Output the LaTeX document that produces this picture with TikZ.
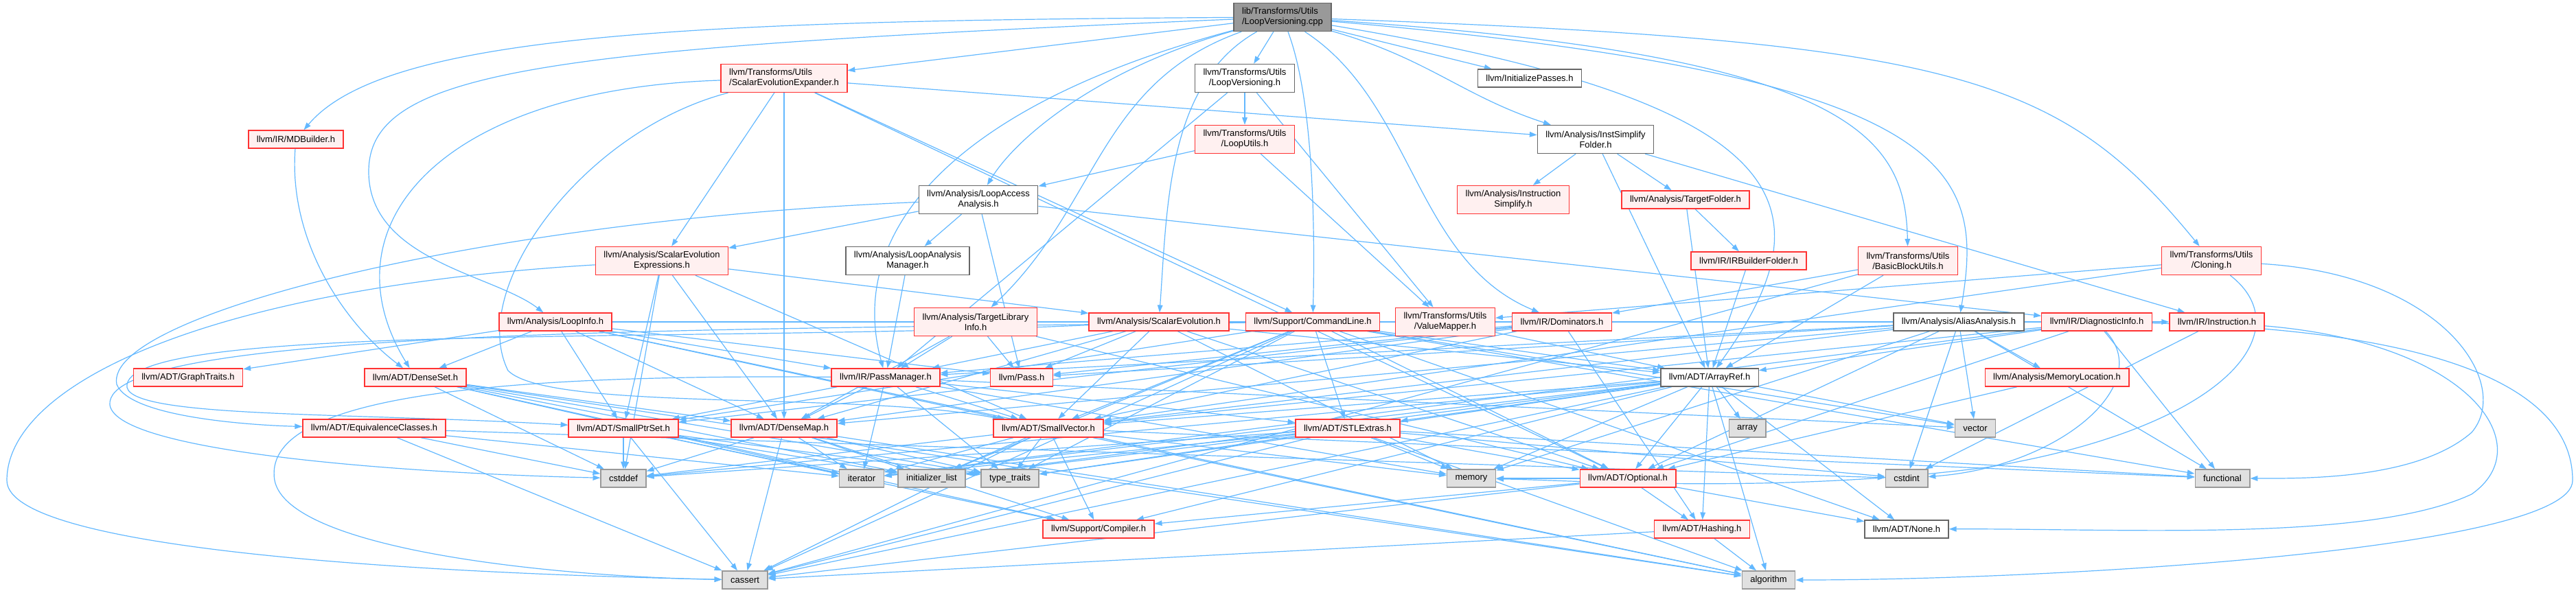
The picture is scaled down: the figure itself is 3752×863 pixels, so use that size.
\documentclass[tikz,border=0pt]{standalone}
\usepackage{fontspec}
\setmainfont{Liberation Sans}
\usepackage{xcolor}
\definecolor{myedge}{HTML}{63B8FF}
\definecolor{myred}{HTML}{FF3333}
\definecolor{mypink}{HTML}{FFF0F0}
\definecolor{mygray}{HTML}{999999}
\definecolor{mylight}{HTML}{E0E0E0}
\definecolor{mydark}{HTML}{666666}
\usepackage{tikz}
\usetikzlibrary{arrows.meta}
\usetikzlibrary{backgrounds}

\begin{document}
\begin{tikzpicture}[x=0.5pt, y=-0.5pt,
    box/.style={draw, line width=0.7pt, inner xsep=6pt, inner ysep=1pt, minimum height=13pt,
      align=center, font=\fontsize{6.5}{7.5}\selectfont},
    redbox/.style={box, draw=myred, fill=mypink},
    whitebox/.style={box, draw=mydark, fill=white},
    sysbox/.style={box, draw=mygray, fill=mylight},
    rootbox/.style={box, draw=mydark, fill=mygray},
    two/.style={minimum height=20.5pt},
    dep/.style={myedge, line width=0.6pt, -{Triangle[length=5.4pt,width=3.8pt]}}]
      \useasboundingbox (0,0) rectangle (3752,863);
      % rank 0 -- 3
      \node[rootbox, two, align=left] (root) at (1868,25) {lib/Transforms/Utils\\/LoopVersioning.cpp};
      \node[redbox] (mdb) at (431,203) {llvm/IR/MDBuilder.h};
      \node[redbox, two, align=left] (seexp) at (1142,114) {llvm/Transforms/Utils\\/ScalarEvolutionExpander.h};
      \node[whitebox, two] (lvh) at (1813,114) {llvm/Transforms/Utils\\/LoopVersioning.h};
      \node[redbox, two] (lutils) at (1813,203) {llvm/Transforms/Utils\\/LoopUtils.h};
      \node[whitebox] (initp) at (2228,114) {llvm/InitializePasses.h};
      \node[whitebox, two] (isf) at (2324,203) {llvm/Analysis/InstSimplify\\Folder.h};
      \node[whitebox, two] (laa) at (1425,291) {llvm/Analysis/LoopAccess\\Analysis.h};
      \node[redbox, two] (isimp) at (2204,291) {llvm/Analysis/Instruction\\Simplify.h};
      \node[redbox] (tfold) at (2455,291) {llvm/Analysis/TargetFolder.h};
      \node[redbox, two] (sexpr) at (964,380) {llvm/Analysis/ScalarEvolution\\Expressions.h};
      \node[whitebox, two] (lam) at (1322,380) {llvm/Analysis/LoopAnalysis\\Manager.h};
      \node[redbox] (irbf) at (2547,380) {llvm/IR/IRBuilderFolder.h};
      \node[redbox, two] (bbu) at (2779,380) {llvm/Transforms/Utils\\/BasicBlockUtils.h};
      \node[redbox, two] (clon) at (3221,380) {llvm/Transforms/Utils\\/Cloning.h};
      % rank 4
      \node[redbox] (linfo) at (809,469) {llvm/Analysis/LoopInfo.h};
      \node[redbox, two] (tli) at (1421,469) {llvm/Analysis/TargetLibrary\\Info.h};
      \node[redbox] (se) at (1688,469) {llvm/Analysis/ScalarEvolution.h};
      \node[redbox] (cl) at (1912,469) {llvm/Support/CommandLine.h};
      \node[redbox, two] (vmap) at (2105,469) {llvm/Transforms/Utils\\/ValueMapper.h};
      \node[redbox] (dom) at (2275,469) {llvm/IR/Dominators.h};
      \node[whitebox] (aa) at (2853,469) {llvm/Analysis/AliasAnalysis.h};
      \node[redbox] (diag) at (3054,469) {llvm/IR/DiagnosticInfo.h};
      \node[redbox] (instr) at (3229,469) {llvm/IR/Instruction.h};
      % rank 5
      \node[redbox] (gtraits) at (274,550) {llvm/ADT/GraphTraits.h};
      \node[redbox] (dset) at (605,550) {llvm/ADT/DenseSet.h};
      \node[redbox] (pm) at (1290,550) {llvm/IR/PassManager.h};
      \node[redbox] (pass) at (1488,550) {llvm/Pass.h};
      \node[whitebox] (aref) at (2490,550) {llvm/ADT/ArrayRef.h};
      \node[redbox] (memloc) at (2996,550) {llvm/Analysis/MemoryLocation.h};
      % rank 6
      \node[redbox] (eqc) at (545,624) {llvm/ADT/EquivalenceClasses.h};
      \node[redbox] (sps) at (908,624) {llvm/ADT/SmallPtrSet.h};
      \node[redbox] (dmap) at (1142,624) {llvm/ADT/DenseMap.h};
      \node[redbox] (svec) at (1527,624) {llvm/ADT/SmallVector.h};
      \node[redbox] (stlx) at (1963,624) {llvm/ADT/STLExtras.h};
      \node[sysbox] (arr) at (2545,624) {array};
      \node[sysbox] (vec) at (2877,624) {vector};
      % rank 7
      \node[sysbox] (cstddef) at (908,697) {cstddef};
      \node[sysbox] (iter) at (1255,697) {iterator};
      \node[sysbox] (initl) at (1357,697) {initializer\_list};
      \node[sysbox] (ttraits) at (1471,697) {type\_traits};
      \node[sysbox] (mem) at (2143,697) {memory};
      \node[redbox] (opt) at (2371,697) {llvm/ADT/Optional.h};
      \node[sysbox] (cstdint) at (2777,697) {cstdint};
      \node[sysbox] (func) at (3237,697) {functional};
      % rank 8 -- 9
      \node[redbox] (compiler) at (1600,771) {llvm/Support/Compiler.h};
      \node[redbox] (hash) at (2479,771) {llvm/ADT/Hashing.h};
      \node[whitebox] (none) at (2777,771) {llvm/ADT/None.h};
      \node[sysbox] (cassert) at (1085,845) {cassert};
      \node[sysbox] (algo) at (2576,845) {algorithm};

      \begin{pgfonlayer}{background}
      % includes of the root file
      \draw[dep] (root) .. controls (1000,30) and (560,50) .. (mdb);
      \draw[dep] (root) .. controls (800,70) and (537,100) .. (537,250) .. controls (537,380) and (720,400) .. (linfo);
      \draw[dep] (root) .. controls (1600,100) and (1480,200) .. (laa);
      \draw[dep] (root) .. controls (1400,150) and (1230,330) .. (pm);
      \draw[dep] (root) .. controls (1600,120) and (1600,300) .. (tli);
      \draw[dep] (root) .. controls (1700,120) and (1700,300) .. (se);
      \draw[dep] (root) .. controls (1915,150) and (1915,350) .. (cl);
      \draw[dep] (root) .. controls (2060,150) and (2060,380) .. (dom);
      \draw[dep] (root) .. controls (2080,85) and (2130,140) .. (isf);
      \draw[dep] (root) .. controls (2620,150) and (2670,300) .. (aref);
      \draw[dep] (root) .. controls (2700,80) and (2775,200) .. (bbu);
      \draw[dep] (root) .. controls (2860,110) and (2890,250) .. (aa);
      \draw[dep] (root) .. controls (2850,60) and (3000,110) .. (clon);
      \foreach \t in {seexp,lvh,initp}
        \draw[dep] (root) -- (\t);
      % long routes round the sides
      \draw[dep] (seexp) .. controls (640,130) and (470,330) .. (dset);
      \draw[dep] (seexp) .. controls (850,190) and (680,420) .. (740,540) .. controls (800,600) and (1250,570) .. (svec);
      \draw[dep] (mdb) .. controls (420,350) and (500,470) .. (dset);
      \draw[dep] (laa) .. controls (700,320) and (150,460) .. (170,560) .. controls (190,610) and (380,620) .. (eqc);
      \draw[dep] (se) .. controls (1000,500) and (200,470) .. (185,560) .. controls (175,610) and (500,600) .. (sps);
      \draw[dep] (cl) .. controls (1000,480) and (150,480) .. (160,590) .. controls (170,660) and (600,690) .. (cstddef);
      \draw[dep] (sexpr) .. controls (300,420) and (10,560) .. (10,700) .. controls (10,800) and (600,835) .. (cassert);
      \draw[dep] (pm) .. controls (700,545) and (380,580) .. (400,700) .. controls (420,800) and (800,840) .. (cassert);
      \draw[dep] (instr) .. controls (3600,500) and (3700,650) .. (3600,720) .. controls (3450,790) and (3100,770) .. (none);
      \draw[dep] (diag) .. controls (3540,480) and (3747,560) .. (3747,700) .. controls (3747,800) and (3000,845) .. (algo);
      \draw[dep] (clon) .. controls (3560,400) and (3660,560) .. (3600,630) .. controls (3520,700) and (3350,697) .. (func);
      \draw[dep] (clon) .. controls (3350,480) and (3250,620) .. (2900,680) .. controls (2600,720) and (2300,700) .. (mem);
      \draw[dep] (diag) .. controls (3140,560) and (3000,680) .. (cstdint);
      % the other includes
      \foreach \s/\t in {lvh/lutils, lvh/pm, lvh/vmap, lutils/laa, lutils/vmap,
          seexp/isf, seexp/sexpr, seexp/dmap, seexp/cl, seexp/opt,
          isf/isimp, isf/tfold, isf/aref, isf/instr, tfold/irbf, tfold/aref, irbf/aref,
          bbu/aref, bbu/dom, bbu/cassert, clon/vmap, clon/svec,
          laa/sexpr, laa/lam, laa/pass, laa/diag, lam/pm,
          sexpr/se, sexpr/dmap, sexpr/sps, sexpr/svec, sexpr/cstddef,
          se/pm, se/pass, se/dmap, se/svec, se/aref, se/mem, se/opt,
          tli/pm, tli/pass, tli/dmap, tli/opt,
          linfo/gtraits, linfo/dset, linfo/sps, linfo/dmap, linfo/svec, linfo/pm, linfo/pass, linfo/instr, linfo/algo,
          pm/sps, pm/dmap, pm/svec, pm/stlx, pm/iter, pm/ttraits, pm/mem, pm/vec,
          dset/dmap, dset/cstddef, dset/iter, dset/initl, dset/ttraits, dset/compiler, dset/algo,
          eqc/cassert, eqc/cstddef, eqc/cstdint, eqc/iter,
          sps/cstddef, sps/cassert, sps/compiler, sps/iter, sps/initl, sps/ttraits,
          dmap/cstddef, dmap/iter, dmap/initl, dmap/ttraits, dmap/cassert, dmap/compiler, dmap/algo,
          svec/cstddef, svec/iter, svec/initl, svec/ttraits, svec/compiler, svec/cassert, svec/algo, svec/mem, svec/func,
          stlx/opt, stlx/algo, stlx/cassert, stlx/cstddef, stlx/cstdint, stlx/func, stlx/initl, stlx/iter, stlx/mem, stlx/ttraits,
          aref/hash, aref/none, aref/opt, aref/stlx, aref/svec, aref/compiler, aref/algo, aref/arr, aref/cassert,
          aref/cstddef, aref/initl, aref/iter, aref/mem, aref/ttraits, aref/vec,
          opt/hash, opt/none, opt/compiler, opt/cassert, opt/mem, hash/algo, hash/cassert,
          cl/stlx, cl/sps, cl/svec, cl/aref, cl/opt, cl/none, cl/cassert, cl/func, cl/initl, cl/ttraits, cl/vec,
          vmap/aref, dom/pm, dom/pass, dom/dmap, dom/sps, dom/svec, dom/hash,
          aa/memloc, aa/vec, aa/cstdint, aa/func, aa/mem, aa/opt, aa/svec, aa/dmap, aa/pm, aa/pass,
          memloc/opt, diag/aref, diag/opt, diag/svec, diag/func, diag/iter, instr/cstdint}
        \draw[dep] (\s) -- (\t);
      \end{pgfonlayer}
    \end{tikzpicture}
\end{document}
